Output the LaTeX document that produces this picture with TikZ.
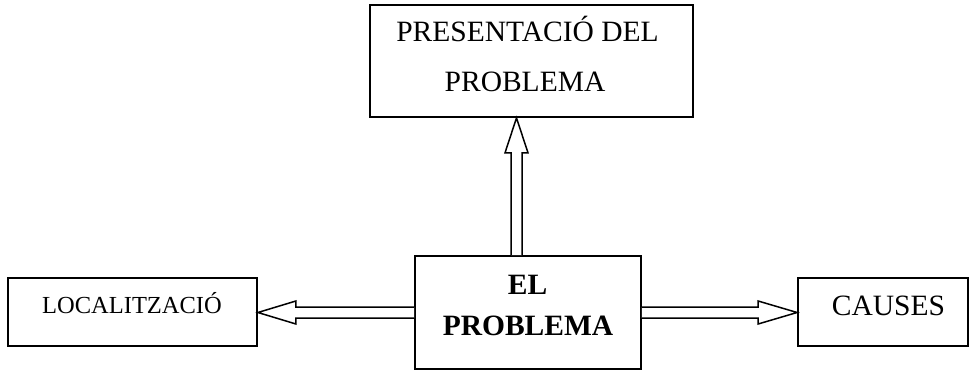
\documentclass[tikz,border=0pt]{standalone}
\usepackage{fontspec}
\setmainfont{Liberation Serif}
\usetikzlibrary{calc}
\begin{document}
\begin{tikzpicture}[x=1pt,y=-1pt,
  box/.style={draw,line width=1.8pt,rectangle,inner sep=0pt},
  txt/.style={anchor=base,inner sep=0pt,font=\fontsize{29.5}{35}\selectfont},
  smalltxt/.style={anchor=base,inner sep=0pt,font=\fontsize{24.5}{30}\selectfont},
  hollow/.style={draw,line width=1.5pt,fill=white,line join=miter}]
\useasboundingbox (0,0) rectangle (971,371);
% boxes
\node[box,minimum width=323pt,minimum height=112pt] (pres) at (531.5,61) {};
\node[box,minimum width=226pt,minimum height=113pt] (prob) at (528,312.5) {};
\node[box,minimum width=249pt,minimum height=68pt] (loc) at (132.5,312) {};
\node[box,minimum width=170pt,minimum height=68pt] (cau) at (883,312) {};
% texts
\node[txt] (pres1) at (527.5,42) {PRESENTACIÓ DEL};
\node[txt] (pres2) at (525,92) {PROBLEMA};
\node[txt,font=\fontsize{29.5}{35}\selectfont\bfseries] (prob1) at (527.5,294) {EL};
\node[txt,font=\fontsize{29.5}{35}\selectfont\bfseries] (prob2) at (528,335) {PROBLEMA};
\node[smalltxt] (loctxt) at (132,313) {LOCALITZACIÓ};
\node[txt] (cautxt) at (888.5,315) {CAUSES};
% up arrow
\coordinate (ub) at ($(prob.north)+(-11.5,0)$);
\coordinate (ut) at (ub |- pres.south);
\draw[hollow] ($(ub)+(-5.5,0)$) -- ($(ut)+(-5.5,35)$) -- ($(ut)+(-11.5,35)$) -- (ut)
  -- ($(ut)+(11.5,35)$) -- ($(ut)+(5.5,35)$) -- ($(ub)+(5.5,0)$);
% left arrow
\coordinate (lb) at ($(prob.west)+(0,0)$);
\coordinate (lt) at (loc.east |- lb);
\draw[hollow] ($(lb)+(0,-5.5)$) -- ($(lt)+(38,-5.5)$) -- ($(lt)+(38,-11.5)$) -- (lt)
  -- ($(lt)+(38,11.5)$) -- ($(lt)+(38,5.5)$) -- ($(lb)+(0,5.5)$);
% right arrow
\coordinate (rb) at ($(prob.east)+(0,0)$);
\coordinate (rt) at (cau.west |- rb);
\draw[hollow] ($(rb)+(0,-5.5)$) -- ($(rt)+(-39,-5.5)$) -- ($(rt)+(-39,-11.5)$) -- (rt)
  -- ($(rt)+(-39,11.5)$) -- ($(rt)+(-39,5.5)$) -- ($(rb)+(0,5.5)$);
\end{tikzpicture}
\end{document}
